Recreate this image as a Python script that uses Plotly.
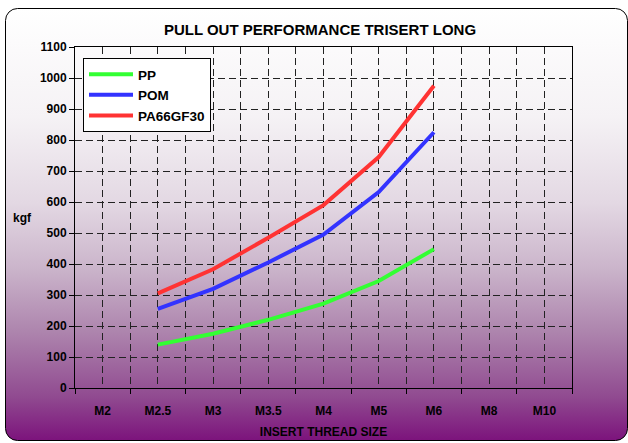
import base64
import plotly.graph_objects as go

# ---- data ----
categories = ["M2", "M2.5", "M3", "M3.5", "M4", "M5", "M6", "M8", "M10"]
series_sizes = ["M2.5", "M3", "M3.5", "M4", "M5", "M6"]
pp_values = [140, 175, 220, 272, 345, 448]
pom_values = [255, 320, 405, 495, 632, 825]
pa66gf30_values = [305, 383, 485, 590, 745, 975]
y_ticks = list(range(0, 1101, 100))

# ---- layout geometry ----
W, H = 628, 443
ML, MR, MT, MB = 75, 56, 47, 55
PW, PH = W - ML - MR, H - MT - MB
FONT = "Liberation Sans, Arial, sans-serif"

x_pos = [categories.index(c) for c in series_sizes]

fig = go.Figure()
for name, vals, color in [("PP", pp_values, "#33ff33"),
                          ("POM", pom_values, "#3333ff"),
                          ("PA66GF30", pa66gf30_values, "#ff3333")]:
    fig.add_trace(go.Scatter(x=x_pos, y=vals, mode="lines", name=name,
                             legendgroup=name,
                             line=dict(color=color, width=4)))

# background gradient with rounded frame
svg = f'''<svg xmlns="http://www.w3.org/2000/svg" width="{W}" height="{H}" viewBox="0 0 {W} {H}">
<defs><linearGradient id="g" x1="0" y1="0" x2="0" y2="1">
<stop offset="0" stop-color="#ffffff"/>
<stop offset="0.25" stop-color="#f5f2f5"/>
<stop offset="0.45" stop-color="#e3d8e3"/>
<stop offset="0.6" stop-color="#cbb5cb"/>
<stop offset="0.75" stop-color="#ad84ad"/>
<stop offset="0.9" stop-color="#904a90"/>
<stop offset="1" stop-color="#7c137c"/>
</linearGradient></defs>
<rect x="0" y="0" width="{W}" height="{H}" fill="#ffffff"/>
<rect x="5.5" y="8.5" width="622" height="432" rx="12" ry="12" fill="url(#g)" stroke="#000" stroke-width="1"/>
</svg>'''
src = "data:image/svg+xml;base64," + base64.b64encode(svg.encode()).decode()

fig.add_layout_image(dict(source=src, xref="paper", yref="paper",
                          x=-ML / PW, y=1 + MT / PH, sizex=W / PW, sizey=H / PH,
                          xanchor="left", yanchor="top", sizing="stretch",
                          layer="below"))

grid_dash = "7px,4px"
fig.update_layout(
    width=W, height=H,
    margin=dict(l=ML, r=MR, t=MT, b=MB, autoexpand=False),
    paper_bgcolor="white", plot_bgcolor="white",
    font=dict(family=FONT, size=12, color="black", weight="bold"),
    title=dict(text="PULL OUT PERFORMANCE TRISERT LONG", x=320 / W, xanchor="center",
               y=1 - 30 / H, yanchor="middle",
               font=dict(family=FONT, size=15, color="black", weight="bold")),
    showlegend=True,
    legend=dict(x=(83 - ML) / PW, y=1 - (58 - MT) / PH, xanchor="left", yanchor="top",
                bgcolor="white", bordercolor="black", borderwidth=1,
                font=dict(family=FONT, size=13.5, color="black", weight="bold"),
                itemwidth=44, tracegroupgap=2, traceorder="normal"),
    xaxis=dict(range=[-0.5, len(categories) - 0.5], automargin=False,
               tickmode="array", tickvals=list(range(len(categories))), ticktext=categories,
               ticks="", showgrid=True, gridcolor="#222", gridwidth=1, griddash=grid_dash,
               showline=True, linecolor="black", linewidth=1, mirror=True,
               zeroline=False, ticklabelstandoff=12,
               tickfont=dict(family=FONT, size=12, color="black", weight="bold"),
               minor=dict(tickmode="array",
                          tickvals=[i - 0.5 for i in range(len(categories) + 1)],
                          ticks="outside", ticklen=5, tickcolor="black",
                          showgrid=True, gridcolor="#222", gridwidth=1, griddash=grid_dash),
               title=dict(text="INSERT THREAD SIZE", standoff=10,
                          font=dict(family=FONT, size=12, color="black", weight="bold")),
               fixedrange=True),
    yaxis=dict(range=[0, 1100], tickmode="array", tickvals=y_ticks, automargin=False,
               ticks="outside", ticklen=5, tickcolor="black",
               tickfont=dict(family=FONT, size=12, color="black", weight="bold"),
               showgrid=True, gridcolor="#222", gridwidth=1, griddash=grid_dash,
               showline=True, linecolor="black", linewidth=1, mirror=True,
               zeroline=False, fixedrange=True),
    annotations=[dict(text="kgf", xref="paper", yref="paper",
                      x=(22 - ML) / PW, y=1 - (218 - MT) / PH,
                      xanchor="center", yanchor="middle", showarrow=False,
                      font=dict(family=FONT, size=12, color="black", weight="bold"))],
)

fig.write_html("out.html", config={"displayModeBar": False},
               post_script="document.body.style.margin='0';")
